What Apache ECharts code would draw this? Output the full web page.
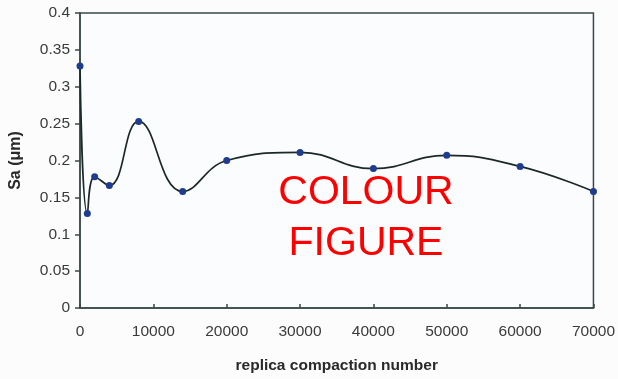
<!DOCTYPE html>
<html>
<head>
<meta charset="utf-8">
<script src="https://cdn.jsdelivr.net/npm/echarts@6/dist/echarts.min.js"></script>
<style>
html,body{margin:0;padding:0;background:#fcfcfd;}
#chart{width:618px;height:379px;}
</style>
</head>
<body>
<div id="chart"></div>
<script>
const compactions = [0, 1000, 2000, 4000, 8000, 14000, 20000, 30000, 40000, 50000, 60000, 70000];
const saValues = [0.328, 0.128, 0.178, 0.166, 0.253, 0.158, 0.200, 0.211, 0.189, 0.207, 0.192, 0.158];
const xTicks = [0, 10000, 20000, 30000, 40000, 50000, 60000, 70000];
const yTicks = [0, 0.05, 0.1, 0.15, 0.2, 0.25, 0.3, 0.35, 0.4];
const xTitle = 'replica compaction number';
const yTitle = 'Sa (\u03bcm)';
const overlayLines = ['COLOUR', 'FIGURE'];

const chart = echarts.init(document.getElementById('chart'), null, {renderer: 'canvas'});
const axisColor = '#3a4848';
const fontFam = 'Liberation Sans, Arial, sans-serif';
const labelStyle = {color: '#3a3a3a', fontSize: 15.5, fontFamily: fontFam};

chart.setOption({
  backgroundColor: '#fcfcfd',
  animation: false,
  grid: {left: 79, right: 23, top: 13, bottom: 70, show: true, borderColor: axisColor, borderWidth: 1.5, backgroundColor: '#fbfcfe'},
  xAxis: {
    type: 'value', min: xTicks[0], max: xTicks[xTicks.length - 1], interval: xTicks[1] - xTicks[0],
    splitLine: {show: false},
    axisLine: {show: true, lineStyle: {color: axisColor, width: 1.5}},
    axisTick: {show: true, inside: true, length: 4, lineStyle: {color: axisColor, width: 1.5}},
    axisLabel: Object.assign({margin: 16, formatter: v => String(v)}, labelStyle),
    name: xTitle, nameLocation: 'middle', nameGap: 50,
    nameTextStyle: {color: '#2a2a2a', fontSize: 15.5, fontWeight: 'bold', fontFamily: fontFam}
  },
  yAxis: {
    type: 'value', min: yTicks[0], max: yTicks[yTicks.length - 1], interval: yTicks[1] - yTicks[0],
    splitLine: {show: false},
    axisLine: {show: true, lineStyle: {color: axisColor, width: 1.5}},
    axisTick: {show: true, inside: false, length: 5, lineStyle: {color: axisColor, width: 1.5}},
    axisLabel: Object.assign({margin: 10, formatter: v => String(+v.toFixed(2))}, labelStyle),
    name: yTitle, nameLocation: 'middle', nameGap: 56, nameRotate: 90,
    nameTextStyle: {color: '#2a2a2a', fontSize: 16, fontWeight: 'bold', fontFamily: fontFam}
  },
  series: [{
    type: 'line',
    data: compactions.map((x, i) => [x, saValues[i]]),
    smooth: 0.45,
    symbol: 'circle', symbolSize: 7,
    itemStyle: {color: '#1f3d8c'},
    lineStyle: {color: '#1c2828', width: 1.7}
  }],
  graphic: overlayLines.map((t, i) => ({
    type: 'text', x: 366, y: 193 + i * 51,
    style: {text: t, fill: '#ff0000', fontSize: 41, fontFamily: fontFam, align: 'center', verticalAlign: 'middle'}
  }))
});
</script>
</body>
</html>
